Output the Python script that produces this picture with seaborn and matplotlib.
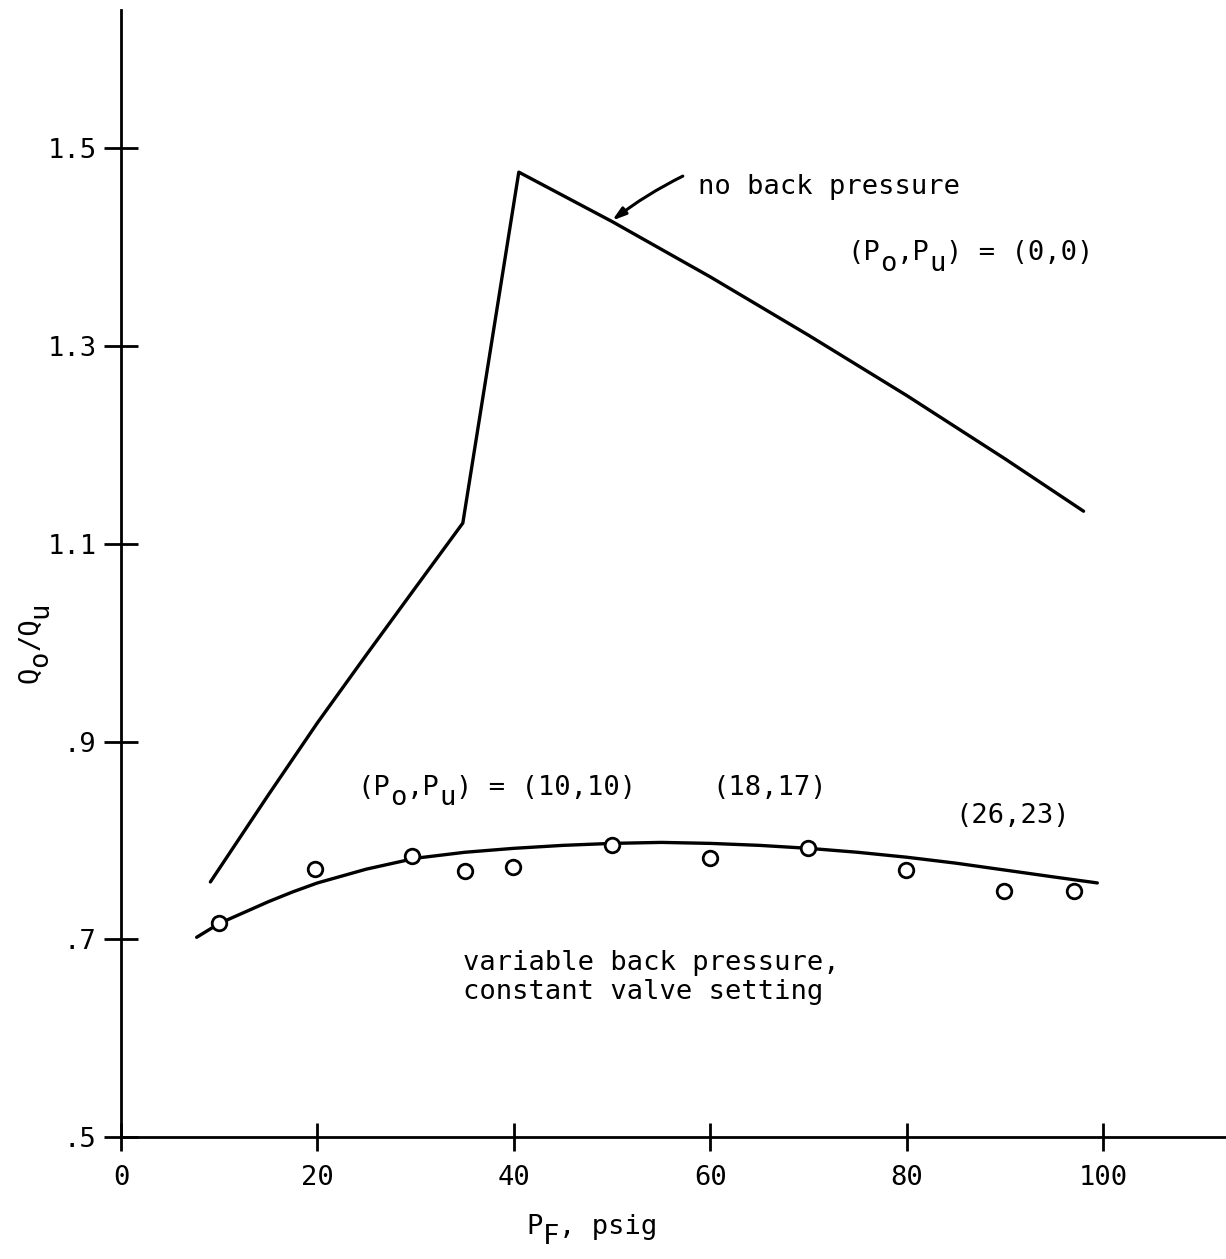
import numpy as np
import pandas as pd
import matplotlib
matplotlib.use('Agg')
import matplotlib.pyplot as plt
import seaborn as sns

# no back pressure curve, (Po,Pu) = (0,0)
pf_upper = [9.1, 15.0, 20.0, 25.0, 30.0, 34.8, 40.5, 50.0, 60.0, 70.0, 80.0, 90.0, 98.0]
q_upper = [0.758, 0.846, 0.919, 0.988, 1.056, 1.121, 1.476, 1.426, 1.370, 1.311, 1.250, 1.186, 1.133]

# fitted curve, variable back pressure
pf_fit = [7.7, 10.0, 12.5, 15.0, 17.5, 20.0, 25.0, 30.0, 35.0, 40.0, 45.0, 50.0, 55.0, 60.0,
          65.0, 70.0, 75.0, 80.0, 85.0, 90.0, 95.0, 99.4]
q_fit = [0.702, 0.716, 0.727, 0.738, 0.748, 0.757, 0.771, 0.782, 0.788, 0.792, 0.795, 0.797, 0.798, 0.797,
         0.795, 0.792, 0.788, 0.783, 0.777, 0.770, 0.763, 0.757]

# measured points
pf_pts = [10.0, 19.8, 29.6, 35.0, 39.9, 50.0, 60.0, 69.9, 79.9, 89.9, 97.0]
q_pts = [0.716, 0.771, 0.784, 0.769, 0.773, 0.795, 0.782, 0.792, 0.770, 0.749, 0.749]

x_ticks = [0, 20, 40, 60, 80, 100]
y_ticks = [0.5, 0.7, 0.9, 1.1, 1.3, 1.5]
y_tick_labels = ['.5', '.7', '.9', '1.1', '1.3', '1.5']

FS = 19.5
CW = 0.602 * FS  # monospace character width in points
DROP = 7.5       # subscript drop in points

sns.set_style('ticks')
plt.rcParams['font.family'] = ['DejaVu Sans Mono']
for k in ['text.color', 'axes.labelcolor', 'xtick.color', 'ytick.color', 'axes.edgecolor']:
    plt.rcParams[k] = 'black'

fig = plt.figure(figsize=(12.26, 12.59), dpi=100)
ax = fig.add_axes([121/1226, 122/1259, 1105/1226, 1127/1259])

up = pd.DataFrame({'pf': pf_upper, 'q': q_upper})
fit = pd.DataFrame({'pf': pf_fit, 'q': q_fit})
pts = pd.DataFrame({'pf': pf_pts, 'q': q_pts})

sns.lineplot(data=up, x='pf', y='q', sort=False, estimator=None, color='black', lw=2.4, ax=ax)
sns.lineplot(data=fit, x='pf', y='q', sort=False, estimator=None, color='black', lw=2.4, ax=ax)
sns.scatterplot(data=pts, x='pf', y='q', marker='o', s=110, facecolor='white',
                edgecolor='black', linewidth=2.0, zorder=3, ax=ax)

ax.set_xlim(0, 112.5)
ax.set_ylim(0.5, 1.64)
ax.set_xticks(x_ticks)
ax.set_yticks(y_ticks)
ax.set_yticklabels(y_tick_labels)
ax.set_xlabel('')
ax.set_ylabel('')
sns.despine(ax=ax)
for s in ['left', 'bottom']:
    ax.spines[s].set_linewidth(2.0)
ax.tick_params(axis='y', direction='inout', length=25, width=2.0, labelsize=19.5, pad=5)
ax.tick_params(axis='x', direction='inout', length=20, width=2.0, labelsize=19.5, pad=10)


def typed(x, y, pieces, coords='data', rotation=0):
    # typewriter style: each subscript takes its own character cell, dropped below the line
    pos = 0
    for s, sub in pieces:
        d = -DROP if sub else 0
        off = (pos * CW, d) if rotation == 0 else (-d, pos * CW)
        ax.annotate(s, xy=(x, y), xycoords=coords, xytext=off, textcoords='offset points',
                    fontsize=FS, ha='left', va='baseline', rotation=rotation,
                    rotation_mode='anchor', annotation_clip=False)
        pos += len(s)


# axis labels
typed(0.367, -0.086, [('P', False), ('F', True), (', psig', False)], coords='axes fraction')
typed(-0.076, 0.403, [('Q', False), ('o', True), ('/Q', False), ('u', True)],
      coords='axes fraction', rotation=90)

# annotations
ax.annotate('', xy=(50.0, 1.427), xytext=(57.2, 1.472),
            arrowprops=dict(arrowstyle='-|>,head_length=0.8,head_width=0.25', lw=2.2,
                            color='black', connectionstyle='arc3,rad=0.05', shrinkA=0, shrinkB=0))
ax.text(58.7, 1.461, 'no back pressure', fontsize=FS, va='center', ha='left')
typed(74.0, 1.387, [('(P', False), ('o', True), (',P', False), ('u', True), (') = (0,0)', False)])
typed(24.1, 0.846, [('(P', False), ('o', True), (',P', False), ('u', True), (') = (10,10)', False)])
ax.text(60.2, 0.846, '(18,17)', fontsize=FS, va='baseline', ha='left')
ax.text(84.9, 0.818, '(26,23)', fontsize=FS, va='baseline', ha='left')
ax.text(34.8, 0.689, 'variable back pressure,\nconstant valve setting', fontsize=FS,
        va='top', ha='left', linespacing=1.15)

fig.savefig('out.png', dpi=100)
